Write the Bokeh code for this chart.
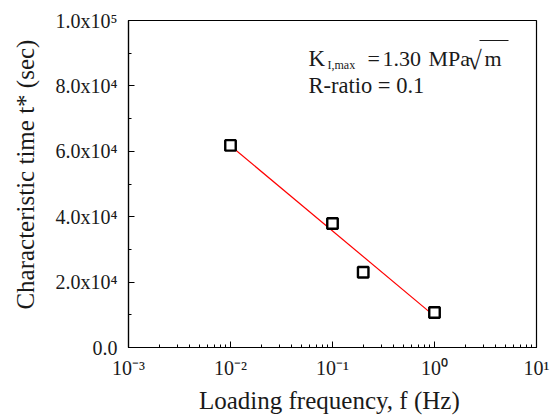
import math
from bokeh.plotting import figure
from bokeh.models import FixedTicker, Range1d, Label, BoxAnnotation
from bokeh.embed import file_html
from bokeh.resources import INLINE

# ---- data ----
freq = [0.01, 0.1, 0.2, 1.0]            # Hz
tstar = [61800, 37900, 23000, 10700]    # sec
fit_x = [0.01, 1.0]
fit_y = [61700, 9600]

x_ticks = [1e-3, 1e-2, 1e-1, 1e0, 1e1]
x_tick_labels = ["10\u207b\u00b3", "10\u207b\u00b2", "10\u207b\u00b9", "10\u2070", "10\u00b9"]
y_ticks = [0, 20000, 40000, 60000, 80000, 100000]
y_tick_labels = ["0.0", "2.0x10\u2074", "4.0x10\u2074", "6.0x10\u2074", "8.0x10\u2074", "1.0x10\u2075"]
y_minor = [10000, 30000, 50000, 70000, 90000]

FONT = "Liberation Serif"
TXT = "#1a1a1a"

# frame geometry (pixels in the picture)
L, R, T, B = 128, 536, 20, 347
W, H = 555, 416
XMIN, XMAX, YMIN, YMAX = 1e-3, 1e1, 0, 100000
DEC = (R - L) / (math.log10(XMAX) - math.log10(XMIN))
YPX = (YMAX - YMIN) / (B - T)


def dx(px):
    return 10 ** (math.log10(XMIN) + (px - L) / DEC)


def dy(py):
    return YMIN + (B - py) * YPX


p = figure(width=W, height=H, x_axis_type="log",
           x_range=Range1d(XMIN, XMAX), y_range=Range1d(YMIN, YMAX),
           output_backend="svg", toolbar_location=None,
           min_border_left=L, min_border_right=W - R,
           min_border_top=T, min_border_bottom=H - B)
p.grid.visible = False
p.outline_line_color = "black"
p.outline_line_width = 1.2
p.background_fill_color = "white"
p.border_fill_color = "white"

minor_x = [d * k for d in [1e-3, 1e-2, 1e-1, 1e0] for k in range(2, 10)]
p.xaxis.ticker = FixedTicker(ticks=x_ticks, minor_ticks=minor_x)
p.yaxis.ticker = FixedTicker(ticks=y_ticks, minor_ticks=y_minor)
p.xaxis.major_label_overrides = dict(zip(x_ticks, x_tick_labels))
p.yaxis.major_label_overrides = dict(zip(y_ticks, y_tick_labels))

for ax in (p.xaxis, p.yaxis):
    ax.axis_line_color = "black"
    ax.axis_line_width = 1.2
    ax.major_tick_in = 6
    ax.major_tick_out = 0
    ax.minor_tick_in = 3
    ax.minor_tick_out = 0
    ax.major_tick_line_color = "black"
    ax.minor_tick_line_color = "black"
    ax.major_label_text_font = FONT
    ax.major_label_text_font_size = "20px"
    ax.major_label_text_color = TXT
    ax.axis_label_text_font = FONT
    ax.axis_label_text_font_size = "25px"
    ax.axis_label_text_font_style = "normal"
    ax.axis_label_text_color = TXT

p.xaxis.major_label_standoff = 9
p.yaxis.major_label_standoff = 11
p.xaxis.axis_label = "Loading frequency, f (Hz)\u00a0"
p.yaxis.axis_label = "\u00a0\u00a0\u00a0Characteristic time t* (sec)"
p.xaxis.axis_label_standoff = 5
p.yaxis.axis_label_standoff = 14

# ---- data marks ----
p.line(fit_x, fit_y, line_color="red", line_width=1.2)
p.scatter(freq, tstar, marker="square", size=10.5, fill_color="white",
          line_color="black", line_width=2.4)


def lab(x, y, text, size):
    p.add_layout(Label(x=x, y=y, text=text, text_font=FONT, text_font_size=f"{size}px",
                       text_color=TXT, text_align="left", text_baseline="alphabetic"))


# ---- annotation: K_I,max = 1.30 MPa sqrt(m), R-ratio = 0.1 ----
lab(dx(308), dy(58), "K", 23)
lab(dx(327), dy(64), "I,max", 12)
lab(dx(367), dy(58), "=", 22)
lab(dx(382), dy(58), "1.30", 22)
lab(dx(428), dy(58), "MPa", 22)
lab(dx(467), dy(60), "\u221a", 26)
lab(dx(484), dy(58), "m", 22)
p.add_layout(BoxAnnotation(left=dx(479), right=dx(508), top=dy(39.4), bottom=dy(40.6),
                           fill_color=TXT, fill_alpha=1, line_alpha=0))
lab(dx(308), dy(85), "R-ratio = 0.1", 22.5)

open("out.html", "w").write(file_html(p, INLINE))
